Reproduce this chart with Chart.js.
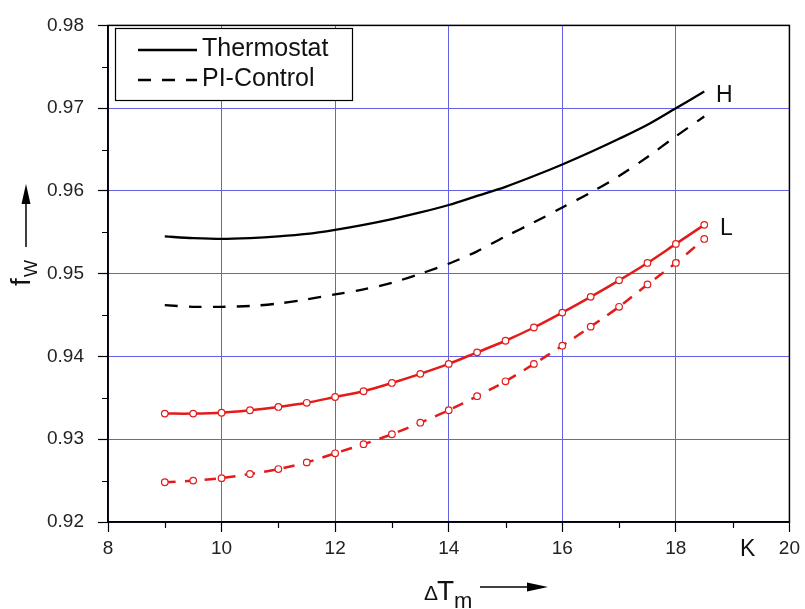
<!DOCTYPE html>
<html>
<head>
<meta charset="utf-8">
<script src="https://cdn.jsdelivr.net/npm/chart.js@4"></script>
<style>
  body { margin: 0; background: #fff; }
  #wrap { width: 805px; height: 609px; }
</style>
</head>
<body>
<div id="wrap"><canvas id="c" width="805" height="609"></canvas></div>
<script>
// ── data ──────────────────────────────────────────────────────
const dT = [9, 9.5, 10, 10.5, 11, 11.5, 12, 12.5, 13, 13.5, 14, 14.5, 15, 15.5, 16, 16.5, 17, 17.5, 18, 18.5];

const thermoH = [0.9545, 0.9543, 0.9542, 0.9543, 0.9545, 0.9548, 0.9553, 0.9559, 0.9566, 0.9574,
  0.9583, 0.9594, 0.9605, 0.9618, 0.9632, 0.9647, 0.9663, 0.9680, 0.9700, 0.9720];
const piH = [0.9462, 0.9460, 0.9460, 0.9461, 0.9464, 0.9469, 0.9475, 0.9481, 0.9489, 0.9500,
  0.9512, 0.9527, 0.9545, 0.9562, 0.9580, 0.9598, 0.9618, 0.9641, 0.9666, 0.9690];
const thermoL = [0.9331, 0.9331, 0.9332, 0.9335, 0.9339, 0.9344, 0.9351, 0.9358, 0.9368, 0.9379,
  0.9391, 0.9405, 0.9419, 0.9435, 0.9453, 0.9472, 0.9492, 0.9513, 0.9536, 0.9559];
const piL = [0.9248, 0.9250, 0.9253, 0.9258, 0.9264, 0.9272, 0.9283, 0.9294, 0.9306, 0.9320,
  0.9335, 0.9352, 0.9370, 0.9391, 0.9413, 0.9436, 0.9460, 0.9487, 0.9513, 0.9542];

const xMin = 8, xMax = 20, xStep = 2;
const yMin = 0.92, yMax = 0.98, yStep = 0.01;
const xMinorTicks = [9, 11, 13, 15, 17, 19];
const yMinorTicks = [0.925, 0.935, 0.945, 0.955, 0.965, 0.975];

const legendItems = [
  { text: "Thermostat", dash: [] },
  { text: "PI-Control", dash: [13, 11] },
];

const FONT = "'Liberation Sans', Arial, sans-serif";
const RED = "#e41b1b";
const GRID = "#6262e2";

const pts = (ys) => dT.map((x, i) => ({ x, y: ys[i] }));

// ── extras: frame, minor ticks, legend, labels, axis titles ──
const decorations = {
  id: "decorations",
  afterDraw(chart) {
    const { ctx, chartArea: a, scales } = chart;
    const xs = scales.x, ys = scales.y;
    ctx.save();

    // frame
    ctx.strokeStyle = "#000";
    ctx.lineWidth = 1.5;
    ctx.strokeRect(a.left, a.top, a.right - a.left, a.bottom - a.top);

    // minor ticks
    ctx.lineWidth = 1.2;
    ctx.beginPath();
    xMinorTicks.forEach((v) => {
      const px = Math.round(xs.getPixelForValue(v)) + 0.5;
      ctx.moveTo(px, a.bottom);
      ctx.lineTo(px, a.bottom + 6);
    });
    yMinorTicks.forEach((v) => {
      const py = Math.round(ys.getPixelForValue(v)) + 0.5;
      ctx.moveTo(a.left - 6, py);
      ctx.lineTo(a.left, py);
    });
    ctx.stroke();

    // legend box
    ctx.fillStyle = "#fff";
    ctx.fillRect(115, 28, 237, 73);
    ctx.lineWidth = 1.2;
    ctx.strokeRect(115.5, 28.5, 237, 72);
    legendItems.forEach((it, i) => {
      const y = 50 + i * 30;
      ctx.setLineDash(it.dash);
      ctx.lineWidth = 2.3;
      ctx.strokeStyle = "#000";
      ctx.beginPath();
      ctx.moveTo(138, y);
      ctx.lineTo(197, y);
      ctx.stroke();
      ctx.setLineDash([]);
      ctx.fillStyle = "#111";
      ctx.font = "25px " + FONT;
      ctx.textBaseline = "middle";
      ctx.textAlign = "left";
      ctx.fillText(it.text, 202, y - 1);
    });

    // curve labels
    ctx.font = "23px " + FONT;
    ctx.textBaseline = "middle";
    ctx.fillStyle = "#fff";
    ctx.fillRect(713, 86, 23, 22);
    ctx.fillStyle = "#111";
    ctx.fillText("H", 716, 96);
    ctx.fillText("L", 720, 229);

    // unit on x axis
    ctx.font = "23px " + FONT;
    ctx.fillText("K", 740, 550);

    // x title: ΔTm with arrow
    ctx.textBaseline = "alphabetic";
    ctx.font = "21px " + FONT;
    ctx.fillText("\u0394", 424, 600);
    ctx.font = "28px " + FONT;
    ctx.fillText("T", 437, 600);
    ctx.font = "22px " + FONT;
    ctx.fillText("m", 454, 608);
    ctx.lineWidth = 1.5;
    ctx.strokeStyle = "#000";
    ctx.beginPath();
    ctx.moveTo(480, 587);
    ctx.lineTo(530, 587);
    ctx.stroke();
    ctx.fillStyle = "#000";
    ctx.beginPath();
    ctx.moveTo(548, 587);
    ctx.lineTo(527, 582.5);
    ctx.lineTo(527, 591.5);
    ctx.closePath();
    ctx.fill();

    // y title: fW with arrow
    ctx.save();
    ctx.translate(30, 286);
    ctx.rotate(-Math.PI / 2);
    ctx.fillStyle = "#111";
    ctx.font = "28px " + FONT;
    ctx.fillText("f", 0, 0);
    ctx.font = "18px " + FONT;
    ctx.fillText("W", 9, 7);
    ctx.restore();
    ctx.beginPath();
    ctx.moveTo(26, 247);
    ctx.lineTo(26, 200);
    ctx.stroke();
    ctx.beginPath();
    ctx.moveTo(26, 184);
    ctx.lineTo(21.5, 204);
    ctx.lineTo(30.5, 204);
    ctx.closePath();
    ctx.fill();

    ctx.restore();
  },
};

new Chart(document.getElementById("c"), {
  type: "line",
  data: {
    datasets: [
      {
        label: "Thermostat H",
        data: pts(thermoH),
        borderColor: "#000",
        borderWidth: 2.3,
        pointRadius: 0,
        tension: 0.3,
      },
      {
        label: "PI-Control H",
        data: pts(piH),
        borderColor: "#000",
        borderWidth: 2.3,
        borderDash: [13, 11],
        pointRadius: 0,
        tension: 0.3,
      },
      {
        label: "Thermostat L",
        data: pts(thermoL),
        borderColor: RED,
        borderWidth: 2.5,
        pointRadius: 3.3,
        pointBackgroundColor: "#fff",
        pointBorderColor: RED,
        pointBorderWidth: 1.2,
        tension: 0.3,
      },
      {
        label: "PI-Control L",
        data: pts(piL),
        borderColor: RED,
        borderWidth: 2.5,
        borderDash: [11, 9],
        pointRadius: 3.3,
        pointBackgroundColor: "#fff",
        pointBorderColor: RED,
        pointBorderWidth: 1.2,
        tension: 0.3,
      },
    ],
  },
  options: {
    responsive: false,
    animation: false,
    devicePixelRatio: 1,
    layout: { padding: { top: 21, right: 15, left: 0, bottom: 0 } },
    plugins: {
      legend: { display: false },
      tooltip: { enabled: false },
    },
    scales: {
      x: {
        type: "linear",
        min: xMin,
        max: xMax,
        afterFit: (s) => { s.height = 87; },
        ticks: {
          stepSize: xStep,
          color: "#222",
          font: { family: FONT, size: 19 },
          padding: 5,
          maxRotation: 0,
        },
        grid: { color: GRID, lineWidth: 1, tickLength: 10, tickColor: "#000", tickWidth: 1.2 },
        border: { display: true, color: "#000", width: 1.5 },
      },
      y: {
        min: yMin,
        max: yMax,
        afterFit: (s) => { s.width = 108; },
        ticks: {
          stepSize: yStep,
          color: "#222",
          font: { family: FONT, size: 19 },
          padding: 14,
          callback: (v) => v.toFixed(2),
        },
        grid: { color: GRID, lineWidth: 1, tickLength: 10, tickColor: "#000", tickWidth: 1.2 },
        border: { display: true, color: "#000", width: 1.5 },
      },
    },
  },
  plugins: [decorations],
});
</script>
</body>
</html>
